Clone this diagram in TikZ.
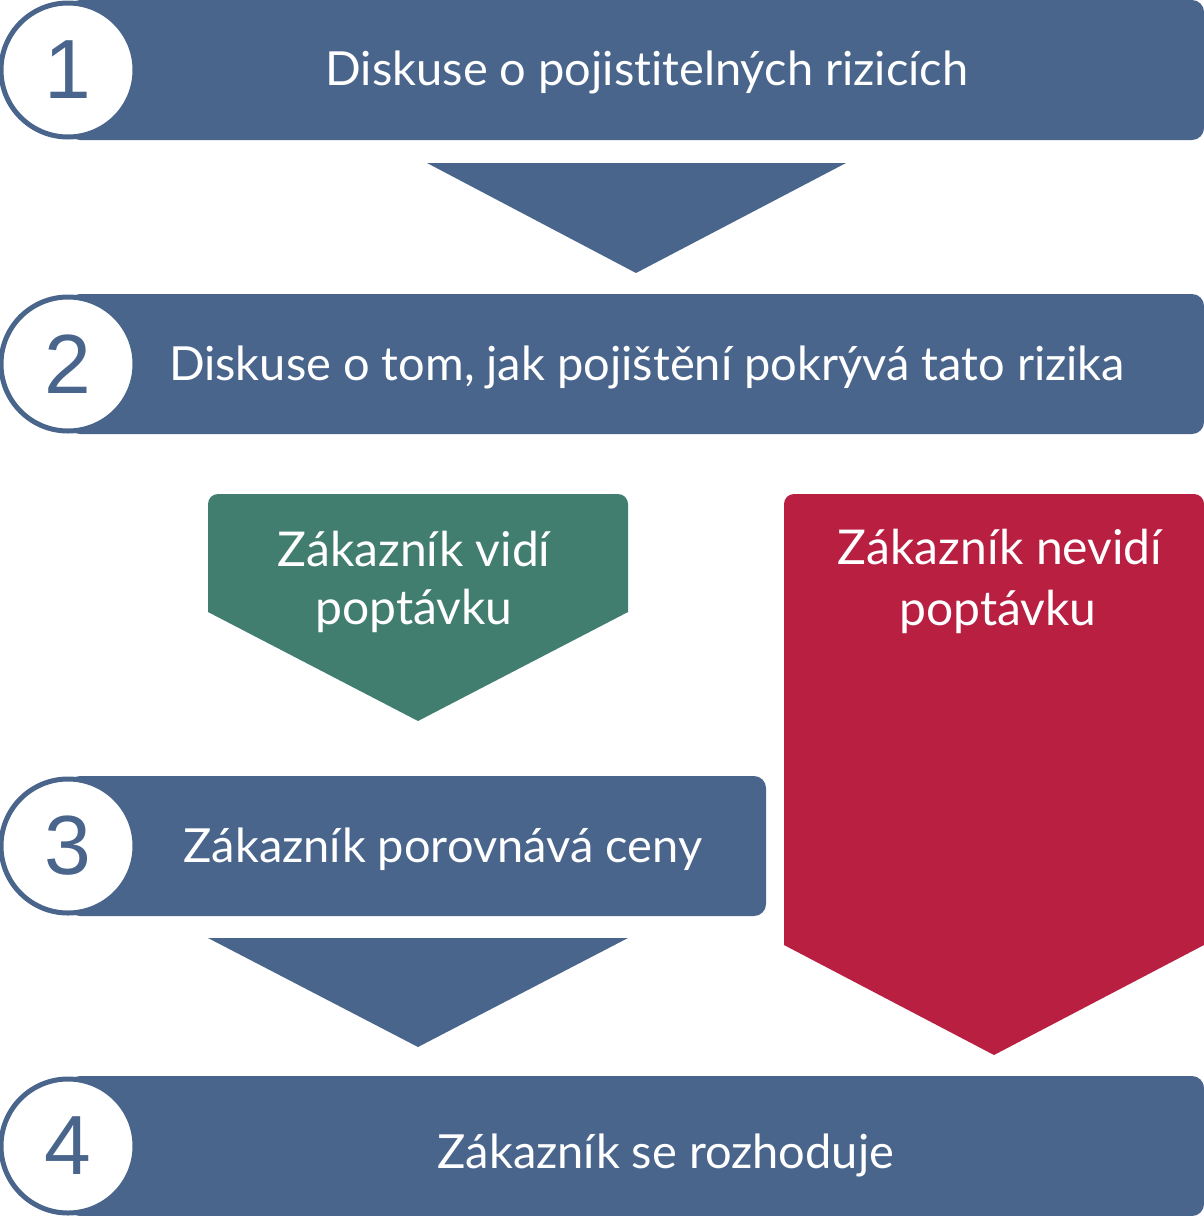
\documentclass[tikz,border=0pt]{standalone}
\usepackage{fontspec}
\setmainfont{Lato}[Ligatures=NoCommon]
\newfontfamily\numfont{Liberation Sans}
\definecolor{stepblue}{HTML}{4A658C}
\definecolor{seegreen}{HTML}{417E70}
\definecolor{notred}{HTML}{B81F41}

\begin{document}
\begin{tikzpicture}[x=1pt, y=-1pt,
	bar/.style={fill=stepblue, rounded corners=12pt},
	numcirc/.style={circle, draw=stepblue, fill=white, line width=5pt, minimum size=134pt, inner sep=0pt, text=stepblue, font=\numfont\fontsize{84}{84}\selectfont},
	bartext/.style={anchor=base, text=white, font=\fontsize{47}{52}\selectfont},
	boxtext/.style={anchor=base, text=white, align=center, font=\fontsize{48}{58}\selectfont}]

	\useasboundingbox (0,0) rectangle (1204,1216);

	\fill[bar] (68,0) rectangle (1204,140);
	\fill[bar] (68,294) rectangle (1204,434);
	\fill[bar] (68,776) rectangle (766,916);
	\fill[bar] (68,1076) rectangle (1204,1216);

	\fill[stepblue] (427,163) -- (846,163) -- (636,273) -- cycle;
	\fill[stepblue] (208,938) -- (628,938) -- (418,1047) -- cycle;

	\fill[seegreen] (208,612) [rounded corners=10pt] -- (208,494) -- (628,494) [sharp corners] -- (628,612) -- (418,721) -- cycle;
	\fill[notred] (784,945) [rounded corners=10pt] -- (784,494) -- (1204,494) [sharp corners] -- (1204,945) -- (994,1055) -- cycle;

	\node[numcirc] (c1) at (68,70) {1};
	\node[numcirc] (c2) at (68,364) {2};
	\node[numcirc] (c3) at (68,846) {3};
	\node[numcirc] (c4) at (68,1146) {4};

	\node[bartext] (t1) at (647,85) {Diskuse o pojistitelných rizicích};
	\node[bartext] (t2) at (647,380) {Diskuse o tom, jak pojištění pokrývá tato rizika};
	\node[bartext] (t3) at (443,862) {Zákazník porovnává ceny};
	\node[bartext] (t4) at (666,1168) {Zákazník se rozhoduje};

	\node[boxtext] (see1) at (414,566) {Zákazník vidí};
	\node[boxtext] (see2) at (414,624) {poptávku};
	\node[boxtext] (not1) at (1000,564) {Zákazník nevidí};
	\node[boxtext] (not2) at (998,625) {poptávku};

\end{tikzpicture}
\end{document}
